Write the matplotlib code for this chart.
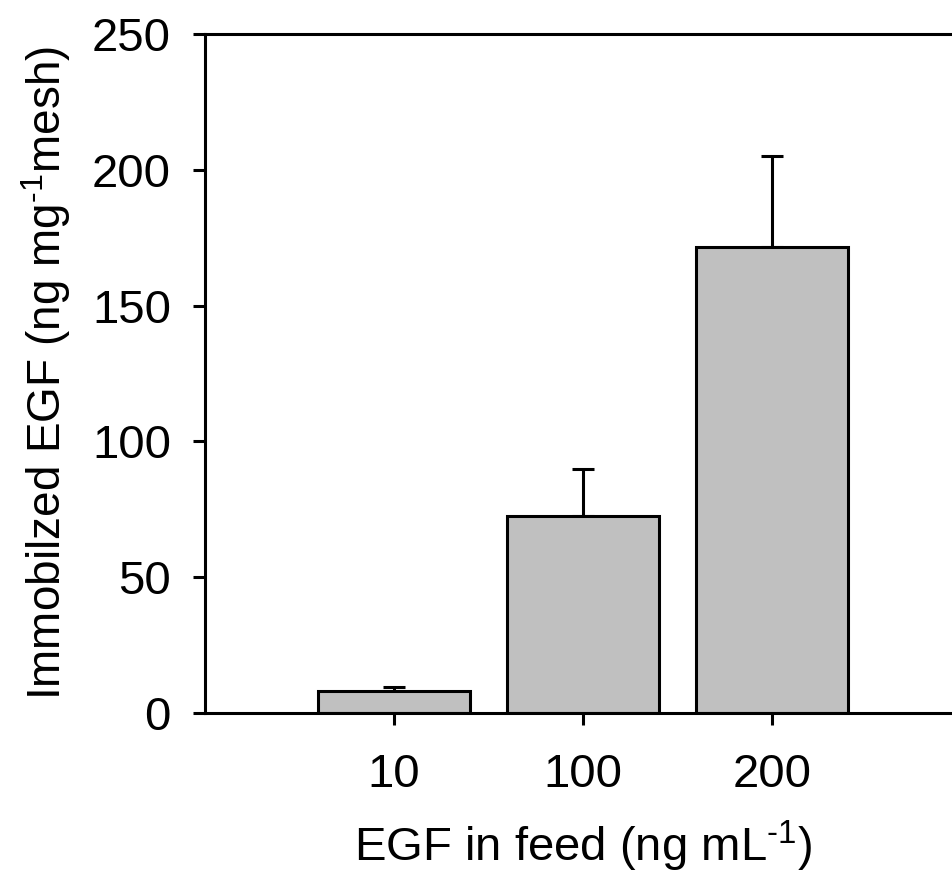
import matplotlib.pyplot as plt
import numpy as np

plt.rcParams['font.family'] = ['Liberation Sans', 'DejaVu Sans']
plt.rcParams['mathtext.fontset'] = 'custom'
plt.rcParams['mathtext.rm'] = 'Liberation Sans'

# data
feed_labels = ["10", "100", "200"]
immobilized = [8.2, 72.5, 171.5]
err_up = [1.2, 17.5, 33.5]

fig = plt.figure(figsize=(9.52, 8.86), dpi=100)
ax = fig.add_axes([205/952, 1 - 713/886, 4*189/952, (713 - 34)/886])

x = np.arange(1, len(feed_labels) + 1)
ax.bar(x, immobilized, width=0.8, color="#c0c0c0", edgecolor="black", linewidth=2.2, zorder=2)
ax.errorbar(x, immobilized, yerr=[np.zeros(len(err_up)), err_up], fmt="none",
            ecolor="black", elinewidth=2.2, capsize=8, capthick=2.2, zorder=1)

ax.set_xlim(0, 4)
ax.set_ylim(0, 250)
ax.set_xticks(x)
ax.set_xticklabels(feed_labels)
ax.set_yticks(np.arange(0, 251, 50))

for s in ax.spines.values():
    s.set_linewidth(2.2)

ax.tick_params(axis="both", direction="out", width=2.2, length=8.5, labelsize=34)
ax.tick_params(axis="x", pad=20)
ax.tick_params(axis="y", pad=16)

ax.set_xlabel("EGF in feed (ng mL$^{\\mathregular{\u2010}1}$)", fontsize=34, labelpad=16)
ax.set_ylabel("Immobilzed EGF (ng mg$^{\\mathregular{\u2010}1}$mesh)", fontsize=33, labelpad=14)

fig.savefig("out.png", dpi=100)
